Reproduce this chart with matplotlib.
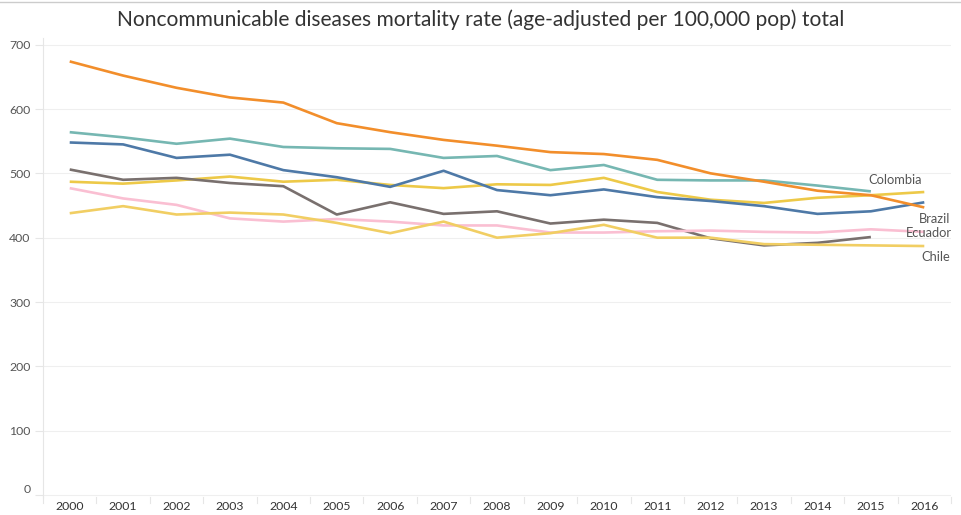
import numpy as np
import matplotlib.pyplot as plt

plt.rcParams["font.family"] = ["Lato", "DejaVu Sans"]

years = [str(y) for y in range(2000, 2017)]

# values (per 100,000 pop)
brazil = [674, 652, 633, 618, 610, 578, 564, 552, 543, 533, 530, 521, 500, 487, 473, 466, 447]
colombia = [564, 556, 546, 554, 541, 539, 538, 524, 527, 505, 513, 490, 489, 489, 481, 472]
blue_series = [548, 545, 524, 529, 505, 494, 479, 504, 474, 466, 475, 463, 457, 449, 437, 441, 455]
gold_series = [487, 484, 489, 495, 487, 490, 482, 477, 483, 482, 493, 471, 459, 454, 462, 466, 471]
gray_series = [506, 490, 493, 485, 480, 436, 455, 437, 441, 422, 428, 423, 399, 388, 392, 401]
ecuador = [477, 461, 451, 430, 425, 429, 425, 419, 419, 408, 408, 410, 411, 409, 408, 413, 409]
chile = [438, 449, 436, 439, 436, 423, 407, 425, 400, 407, 420, 400, 400, 390, 389, 388, 387]

series = [
    (colombia, "#76B7B2", "Colombia"),
    (gold_series, "#EDC948", None),
    (blue_series, "#4E79A7", None),
    (gray_series, "#79706E", None),
    (ecuador, "#FABFD2", "Ecuador"),
    (chile, "#F1CE63", "Chile"),
    (brazil, "#F28E2B", "Brazil"),
]

fig = plt.figure(figsize=(9.61, 5.15), dpi=100)
ax = fig.add_axes([43 / 961, 18 / 515, 908 / 961, 459 / 515])

for vals, col, name in series:
    ax.plot(range(len(vals)), vals, color=col, lw=1.9, solid_capstyle="butt", zorder=3)

# end labels like the original
label_offsets = {"Colombia": (-1.5, 8, "left"), "Brazil": (18.5, -8, "right"),
                 "Ecuador": (20, -1, "right"), "Chile": (18.5, -8, "right")}
for vals, col, name in series:
    if name is None:
        continue
    dx, dy, ha = label_offsets[name]
    ax.annotate(name, xy=(len(vals) - 1, vals[-1]), xytext=(dx, dy),
                textcoords="offset points", ha=ha, va="center",
                fontsize=9.3, color="#555555")

ax.set_xlim(-0.5, 16.5)
ax.set_ylim(-3.1, 710.4)
ax.set_xticks(range(len(years)))
ax.set_xticklabels(years)
ax.set_yticks(range(0, 701, 100))
ax.set_yticklabels([str(v) for v in range(0, 701, 100)])
ax.get_yticklabels()[0].set_va("bottom")

ax.grid(axis="y", color="#efefef", lw=0.8, zorder=0)
ax.tick_params(axis="y", length=6, color="#e6e6e6", labelsize=8.8, labelcolor="#555555", pad=3)
ax.tick_params(axis="x", length=0, labelsize=8.8, labelcolor="#333333", pad=3)
for s in ["top", "right", "bottom"]:
    ax.spines[s].set_visible(False)
ax.spines["left"].set_color("#e6e6e6")
ax.spines["left"].set_linewidth(0.8)

# small separators between year columns
for i in range(len(years) + 1):
    ax.plot([i - 0.5, i - 0.5], [-3.1, -12], color="#e6e6e6", lw=0.8, clip_on=False)

fig.text(0.5, 1 - 20 / 515, "Noncommunicable diseases mortality rate (age-adjusted per 100,000 pop) total",
         ha="center", va="center", fontsize=15.1, color="#333333")
fig.add_artist(plt.Line2D([0, 1], [1 - 2 / 515, 1 - 2 / 515], color="#cccccc", lw=1))

fig.savefig("out.png", dpi=100)
